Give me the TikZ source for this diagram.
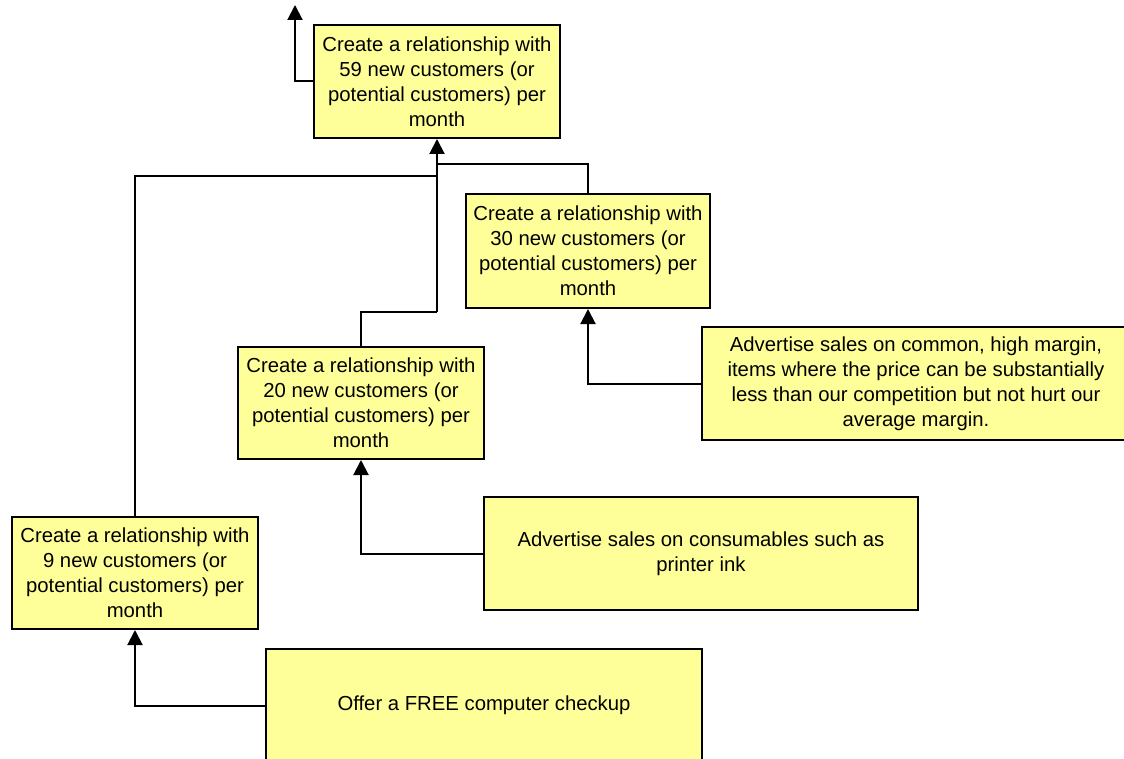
\documentclass[tikz,border=0pt]{standalone}
\usepackage{fontspec}
\setmainfont{Liberation Sans}
\usetikzlibrary{arrows.meta}
\definecolor{boxfill}{HTML}{FFFF99}
\tikzset{
  box/.style={draw=black, line width=2pt, fill=boxfill, rectangle, anchor=north west,
    align=center, inner sep=0pt, font=\fontsize{20.3pt}{25pt}\selectfont},
  link/.style={draw=black, line width=2pt},
  arr/.style={link, -{Triangle[length=15pt,width=15pt]}}
}
\begin{document}
\begin{tikzpicture}[x=1pt,y=-1pt]
\useasboundingbox (0,0) rectangle (1124,759);
\clip (0,0) rectangle (1124,759);
\fill[white] (0,0) rectangle (1124,759);
\node[box, minimum width=246pt, minimum height=113pt] (b59) at (313,24)
  {Create a relationship with\\59 new customers (or\\potential customers) per\\month};
\node[box, minimum width=244pt, minimum height=114pt] (b30) at (465,193)
  {Create a relationship with\\30 new customers (or\\potential customers) per\\month};
\node[box, minimum width=246pt, minimum height=112pt] (b20) at (237,346)
  {Create a relationship with\\20 new customers (or\\potential customers) per\\month};
\node[box, minimum width=246pt, minimum height=112pt] (b9) at (11,516)
  {Create a relationship with\\9 new customers (or\\potential customers) per\\month};
\node[box, minimum width=428pt, minimum height=113pt] (adv1) at (701,326)
  {Advertise sales on common, high margin,\\items where the price can be substantially\\less than our competition but not hurt our\\average margin.};
\node[box, minimum width=434pt, minimum height=113pt] (adv2) at (483,496)
  {Advertise sales on consumables such as\\printer ink};
\node[box, minimum width=436pt, minimum height=113pt] (offer) at (265,648)
  {Offer a FREE computer checkup};
\coordinate (top) at (295,5);
\coordinate (j9) at ([yshift=-37pt]b59.south);
\coordinate (j30) at ([yshift=-25pt]b59.south);
\coordinate (j20) at ([yshift=-173pt]b59.south);
\draw[arr] (b59.west) -| (top);
\draw[link] (b9.north) |- (j9);
\draw[link] (b30.north) |- (j30);
\draw[link] (b20.north) |- (j20);
\draw[arr] (j20) -- (b59.south);
\draw[arr] (adv1.west) -| (b30.south);
\draw[arr] (adv2.west) -| (b20.south);
\draw[arr] (offer.west) -| (b9.south);
\end{tikzpicture}
\end{document}
